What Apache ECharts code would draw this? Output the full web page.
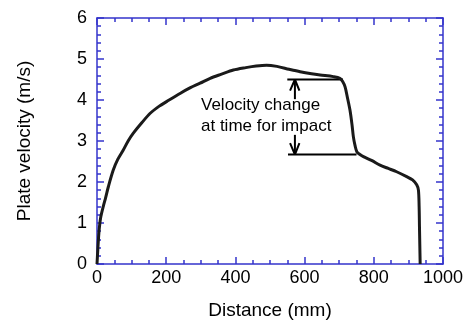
<!DOCTYPE html>
<html><head><meta charset="utf-8">
<script src="https://cdn.jsdelivr.net/npm/echarts@6/dist/echarts.min.js"></script>
<style>html,body{margin:0;padding:0;background:#fff}#c{width:468px;height:327px}</style>
</head><body><div id="c"></div>
<script>
// Plate velocity curve (distance mm, velocity m/s)
const distance = [0, 2, 4, 7, 11, 18, 25, 33, 47, 60, 76, 90, 105, 130, 153, 180, 201, 240, 270, 298, 327, 360, 394, 430, 460, 490, 520, 555, 587, 620, 645, 683, 702, 710, 717, 724, 731, 737, 741, 746, 751, 760, 770, 795, 818, 842, 866, 895, 912, 924, 929, 931, 932, 933, 934];
const velocity = [0, 0.3, 0.59, 0.9, 1.15, 1.40, 1.62, 1.89, 2.29, 2.55, 2.78, 3.0, 3.19, 3.45, 3.67, 3.85, 3.96, 4.16, 4.30, 4.41, 4.53, 4.63, 4.73, 4.79, 4.83, 4.85, 4.82, 4.75, 4.69, 4.64, 4.61, 4.57, 4.53, 4.45, 4.32, 4.05, 3.76, 3.40, 3.10, 2.88, 2.74, 2.67, 2.62, 2.52, 2.41, 2.33, 2.25, 2.13, 2.05, 1.93, 1.80, 1.40, 0.91, 0.45, 0];
// Annotation reference lines
const upperLineX = [550, 711], upperLineY = [4.5, 4.5];
const lowerLineX = [552, 750], lowerLineY = [2.67, 2.67];
const upperArrowX = [572, 572], upperArrowY = [4.5, 4.02];
const upperHeadX = [558, 572, 585], upperHeadY = [4.23, 4.5, 4.23];
const lowerArrowX = [572, 572], lowerArrowY = [3.15, 2.67];
const lowerHeadX = [558, 572, 585], lowerHeadY = [2.95, 2.67, 2.95];
const xTicks = [0, 200, 400, 600, 800, 1000];
const yTicks = [0, 1, 2, 3, 4, 5, 6];
const annotation = ['Velocity change', 'at time for impact'];

const zip = (a, b) => a.map((v, i) => [v, b[i]]);
const axisBlue = '#3434cc';
const font = 'Liberation Sans, Arial, sans-serif';
const segStyle = {type: 'line', symbol: 'none', silent: true, animation: false,
  lineStyle: {color: '#000', width: 2}, z: 3};

const chart = echarts.init(document.getElementById('c'), null, {renderer: 'canvas'});
const baseX = {type: 'value', min: xTicks[0], max: xTicks[xTicks.length - 1], interval: 200,
  splitLine: {show: false},
  axisLine: {show: true, onZero: false, lineStyle: {color: axisBlue, width: 1.5}},
  axisTick: {show: true, inside: true, length: 7, lineStyle: {color: axisBlue, width: 1.5}},
  minorTick: {show: true, splitNumber: 4, length: 4, lineStyle: {color: axisBlue, width: 1.5}}};
const baseY = {type: 'value', min: yTicks[0], max: yTicks[yTicks.length - 1], interval: 1,
  splitLine: {show: false},
  axisLine: {show: true, onZero: false, lineStyle: {color: axisBlue, width: 1.5}},
  axisTick: {show: true, inside: true, length: 7, lineStyle: {color: axisBlue, width: 1.5}},
  minorTick: {show: true, splitNumber: 5, length: 4, lineStyle: {color: axisBlue, width: 1.5}}};

chart.setOption({
  animation: false,
  grid: {left: 97, right: 25, top: 18, bottom: 63},
  xAxis: [
    Object.assign({}, baseX, {position: 'bottom', name: 'Distance (mm)', nameLocation: 'middle', nameGap: 37,
      nameTextStyle: {color: '#000', fontSize: 19, fontFamily: font},
      axisLabel: {color: '#000', fontSize: 18, fontFamily: font, margin: 5, formatter: v => String(v)}}),
    Object.assign({}, baseX, {position: 'top', axisLabel: {show: false}})
  ],
  yAxis: [
    Object.assign({}, baseY, {position: 'left', name: 'Plate velocity (m/s)', nameLocation: 'middle', nameGap: 63,
      nameRotate: 90, nameTextStyle: {color: '#000', fontSize: 19, fontFamily: font},
      axisLabel: {color: '#000', fontSize: 18, fontFamily: font, margin: 10, formatter: v => String(v)}}),
    Object.assign({}, baseY, {position: 'right', axisLabel: {show: false}})
  ],
  series: [
    {type: 'line', data: zip(distance, velocity), symbol: 'none', smooth: 0.3,
      lineStyle: {color: '#1a1a1a', width: 3}, z: 4},
    Object.assign({data: zip(upperLineX, upperLineY)}, segStyle),
    Object.assign({data: zip(lowerLineX, lowerLineY)}, segStyle),
    Object.assign({data: zip(upperArrowX, upperArrowY)}, segStyle),
    Object.assign({data: zip(upperHeadX, upperHeadY)}, segStyle),
    Object.assign({data: zip(lowerArrowX, lowerArrowY)}, segStyle),
    Object.assign({data: zip(lowerHeadX, lowerHeadY)}, segStyle)
  ],
  graphic: [{type: 'text', left: 201, top: 95, z: 10,
    style: {text: annotation.join('\n'), fill: '#000', font: '17px ' + font, lineHeight: 21}}]
});
</script></body></html>
